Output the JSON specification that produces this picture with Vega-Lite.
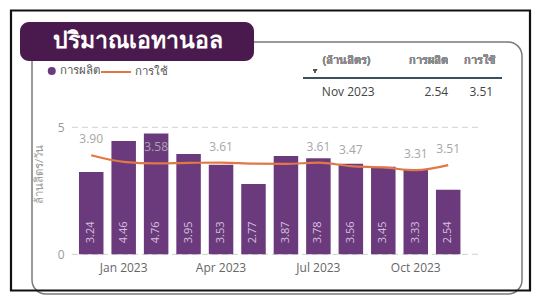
{
  "$schema": "https://vega.github.io/schema/vega-lite/v6.json",
  "width": 490,
  "height": 252,
  "autosize": {"type": "none"},
  "padding": {"left": 32, "top": 42, "right": 14, "bottom": 9},
  "background": "#ffffff",
  "config": {
    "font": "Open Sans",
    "view": {"stroke": "#7a7a7a", "strokeWidth": 1.5, "cornerRadius": 14, "fill": "#ffffff"},
    "legend": {"strokeWidth": 2.2}
  },
  "data": {
    "values": [
      {"month": "Dec 2022", "prod": 3.24, "cons": 3.90},
      {"month": "Jan 2023", "prod": 4.46, "cons": 3.64},
      {"month": "Feb 2023", "prod": 4.76, "cons": 3.58},
      {"month": "Mar 2023", "prod": 3.95, "cons": 3.60},
      {"month": "Apr 2023", "prod": 3.53, "cons": 3.61},
      {"month": "May 2023", "prod": 2.77, "cons": 3.57},
      {"month": "Jun 2023", "prod": 3.87, "cons": 3.56},
      {"month": "Jul 2023", "prod": 3.78, "cons": 3.61},
      {"month": "Aug 2023", "prod": 3.56, "cons": 3.47},
      {"month": "Sep 2023", "prod": 3.45, "cons": 3.42},
      {"month": "Oct 2023", "prod": 3.33, "cons": 3.31},
      {"month": "Nov 2023", "prod": 2.54, "cons": 3.51}
    ]
  },
  "encoding": {
    "x": {
      "field": "month",
      "type": "ordinal",
      "scale": {
        "domain": ["Nov 2022", "Dec 2022", "Jan 2023", "Feb 2023", "Mar 2023", "Apr 2023", "May 2023", "Jun 2023", "Jul 2023", "Aug 2023", "Sep 2023", "Oct 2023", "Nov 2023", "Dec 2023"],
        "paddingInner": 0.245,
        "paddingOuter": 0.672,
        "align": 0.333
      },
      "axis": {
        "values": ["Jan 2023", "Apr 2023", "Jul 2023", "Oct 2023"],
        "title": null,
        "domain": false,
        "ticks": false,
        "grid": false,
        "offset": -34,
        "labelPadding": 2,
        "labelAngle": 0,
        "labelColor": "#666666",
        "labelFontSize": 12
      }
    }
  },
  "layer": [
    {
      "data": {"values": [{"g": 0}, {"g": 5}]},
      "mark": {"type": "rule", "color": "#d0d0d0", "strokeWidth": 1},
      "encoding": {
        "x": {"datum": "Dec 2022", "type": "ordinal", "bandPosition": -0.286},
        "x2": {"datum": "Dec 2023"},
        "y": {"field": "g", "type": "quantitative", "scale": {"domain": [-1.563, 8.358], "nice": false, "zero": false}},
        "strokeDash": {
          "datum": "ปริมาณเอทานอล",
          "type": "nominal",
          "scale": {"range": [[6, 4]]},
          "legend": {
            "orient": "none",
            "legendX": -12,
            "legendY": -20,
            "title": ".",
            "titleColor": "transparent",
            "titleFontSize": 1,
            "titleOrient": "right",
            "titlePadding": 23,
            "padding": 7.5,
            "fillColor": "#4a1a4e",
            "strokeColor": null,
            "cornerRadius": 9,
            "symbolOpacity": 0,
            "symbolSize": 64,
            "symbolStrokeWidth": 0,
            "labelOffset": 2,
            "labelFontSize": 23,
            "labelFontWeight": "bold",
            "labelColor": "#ffffff",
            "labelLimit": 400
          }
        }
      }
    },
    {
      "mark": {"type": "bar"},
      "encoding": {
        "y": {
          "field": "prod",
          "type": "quantitative",
          "axis": {
            "values": [0, 5],
            "title": "ล้านลิตร/วัน",
            "grid": false,
            "domain": false,
            "ticks": false,
            "offset": -35,
            "labelPadding": 3,
            "labelColor": "#999999",
            "labelFontSize": 12,
            "titleColor": "#999999",
            "titleFontSize": 11.5,
            "titleFontWeight": "normal",
            "titleX": -28,
            "titleY": 132,
            "titleBaseline": "middle",
            "titleAngle": 270
          }
        },
        "fill": {
          "datum": "การผลิต",
          "type": "nominal",
          "scale": {"range": ["#6b3a7d"]},
          "legend": {
            "orient": "none",
            "legendX": 14,
            "legendY": 23.25,
            "title": null,
            "padding": 0,
            "symbolType": "circle",
            "symbolSize": 64,
            "labelOffset": 2,
            "labelFontSize": 11.5,
            "labelColor": "#555555"
          }
        }
      }
    },
    {
      "mark": {"type": "text", "angle": 270, "align": "left", "baseline": "middle", "dx": 11, "fontSize": 11, "color": "#d4c2dd"},
      "encoding": {
        "y": {"datum": 0, "type": "quantitative"},
        "text": {"field": "prod", "type": "quantitative", "format": ".2f"}
      }
    },
    {
      "mark": {"type": "line", "interpolate": "monotone", "strokeWidth": 2.2},
      "encoding": {
        "y": {"field": "cons", "type": "quantitative"},
        "stroke": {
          "datum": "การใช้",
          "type": "nominal",
          "scale": {"range": ["#e27746"]},
          "legend": {
            "orient": "none",
            "legendX": 68,
            "legendY": 14,
            "title": null,
            "padding": 0,
            "symbolType": "stroke",
            "symbolSize": 900,
            "symbolStrokeWidth": 2,
            "labelOffset": 3,
            "labelFontSize": 11.5,
            "labelColor": "#555555"
          }
        }
      }
    },
    {
      "transform": [{"filter": {"field": "month", "oneOf": ["Dec 2022", "Feb 2023", "Apr 2023", "Jul 2023", "Aug 2023", "Oct 2023", "Nov 2023"]}}],
      "mark": {"type": "text", "dy": -16, "fontSize": 12, "color": "#a6a6a6"},
      "encoding": {
        "y": {"field": "cons", "type": "quantitative"},
        "text": {"field": "cons", "type": "quantitative", "format": ".2f"}
      }
    },
    {
      "mark": {"type": "text", "align": "left", "baseline": "middle", "dx": -28, "fontSize": 11, "color": "#8a8a8a"},
      "encoding": {
        "x": {"datum": "Aug 2023", "type": "ordinal"},
        "y": {"datum": 7.61, "type": "quantitative"},
        "text": {"value": "(ล้านลิตร)"}
      }
    },
    {
      "mark": {"type": "text", "align": "right", "baseline": "middle", "dx": 0, "fontSize": 11, "color": "#8a8a8a"},
      "encoding": {
        "x": {"datum": "Nov 2023", "type": "ordinal"},
        "y": {"datum": 7.61, "type": "quantitative"},
        "text": {"value": "การผลิต"}
      }
    },
    {
      "mark": {"type": "text", "align": "right", "baseline": "middle", "dx": 47, "fontSize": 11, "color": "#8a8a8a"},
      "encoding": {
        "x": {"datum": "Nov 2023", "type": "ordinal"},
        "y": {"datum": 7.61, "type": "quantitative"},
        "text": {"value": "การใช้"}
      }
    },
    {
      "mark": {"type": "point", "filled": true, "size": 18, "color": "#555555", "opacity": 1},
      "encoding": {
        "x": {"datum": "Aug 2023", "type": "ordinal", "bandPosition": -0.96},
        "y": {"datum": 7.22, "type": "quantitative"},
        "shape": {
          "datum": "▼",
          "type": "nominal",
          "scale": {"range": ["triangle-down"]},
          "legend": {
            "orient": "none",
            "legendX": -21,
            "legendY": -31.5,
            "title": null,
            "padding": 0,
            "strokeColor": "#111111",
            "cornerRadius": 0,
            "symbolType": "square",
            "symbolSize": 90000,
            "symbolOpacity": 0,
            "symbolStrokeWidth": 0,
            "labelExpr": "''",
            "labelOffset": 219
          }
        }
      }
    },
    {
      "mark": {"type": "rule", "color": "#3d4f5c", "strokeWidth": 1.3},
      "encoding": {
        "x": {"datum": "Aug 2023", "type": "ordinal", "bandPosition": -1.453},
        "x2": {"datum": "Dec 2023"},
        "y": {"datum": 6.94, "type": "quantitative"}
      }
    },
    {
      "mark": {"type": "rule", "color": "#3d4f5c", "strokeWidth": 1.3},
      "encoding": {
        "x": {"datum": "Dec 2023", "type": "ordinal", "bandPosition": 1.37},
        "x2": {"datum": "Nov 2023"},
        "y": {"datum": 6.94, "type": "quantitative"}
      }
    },
    {
      "transform": [{"filter": "datum.month === 'Nov 2023'"}],
      "layer": [
        {
          "mark": {"type": "text", "align": "left", "baseline": "middle", "dx": -29, "fontSize": 12, "color": "#444444"},
          "encoding": {
            "x": {"datum": "Aug 2023", "type": "ordinal"},
            "y": {"datum": 6.39, "type": "quantitative"},
            "text": {"field": "month"}
          }
        },
        {
          "mark": {"type": "text", "align": "right", "baseline": "middle", "dx": 0, "fontSize": 12, "color": "#444444"},
          "encoding": {
            "x": {"datum": "Nov 2023", "type": "ordinal"},
            "y": {"datum": 6.39, "type": "quantitative"},
            "text": {"field": "prod", "type": "quantitative", "format": ".2f"}
          }
        },
        {
          "mark": {"type": "text", "align": "right", "baseline": "middle", "dx": 45, "fontSize": 12, "color": "#444444"},
          "encoding": {
            "x": {"datum": "Nov 2023", "type": "ordinal"},
            "y": {"datum": 6.39, "type": "quantitative"},
            "text": {"field": "cons", "type": "quantitative", "format": ".2f"}
          }
        }
      ]
    }
  ]
}
